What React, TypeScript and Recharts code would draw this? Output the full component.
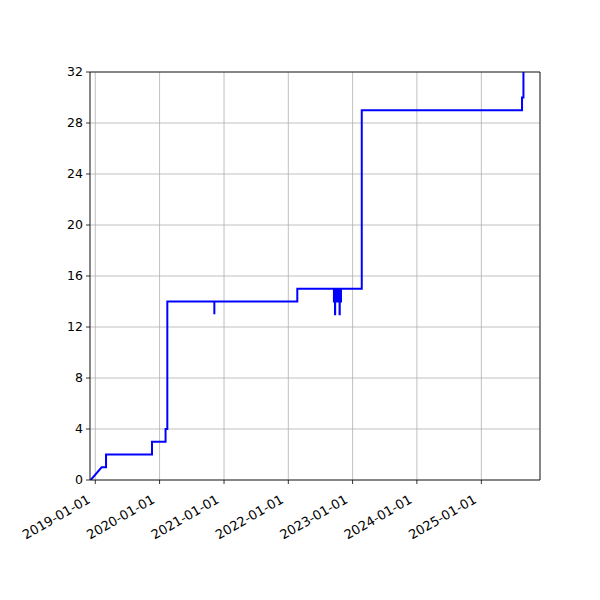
import React from 'react';
import { LineChart, Line, XAxis, YAxis, CartesianGrid, ReferenceLine } from 'recharts';

// cumulative count (repeated dates = vertical jumps)
const obsDates = [
    '2018-12-06', '2019-02-06', '2019-03-03', '2019-03-03', '2019-11-19', '2019-11-19',
    '2020-02-04', '2020-02-04', '2020-02-14', '2020-02-14',
    '2020-11-07', '2020-11-07', '2020-11-07',
    '2022-02-21', '2022-02-21',
    '2022-09-17', '2022-09-17', '2022-09-20', '2022-09-20', '2022-09-23', '2022-09-23',
    '2022-09-24', '2022-09-24', '2022-09-27', '2022-09-27', '2022-09-30', '2022-09-30',
    '2022-10-03', '2022-10-03', '2022-10-06', '2022-10-06', '2022-10-09', '2022-10-09',
    '2022-10-12', '2022-10-12', '2022-10-15', '2022-10-15', '2022-10-19', '2022-10-19',
    '2022-10-20', '2022-10-20', '2022-10-23', '2022-10-23', '2022-10-27', '2022-10-27',
    '2023-02-22', '2023-02-22',
    '2025-08-20', '2025-08-20', '2025-08-28', '2025-08-28',
];
const obsCounts = [
    0, 1, 1, 2, 2, 3,
    3, 4, 4, 14,
    14, 13, 14,
    14, 15,
    15, 14, 14, 15, 15, 13,
    13, 15, 15, 14, 14, 15,
    15, 14, 14, 15, 15, 14,
    14, 15, 15, 14, 14, 13,
    13, 15, 15, 14, 14, 15,
    15, 29,
    29, 30, 30, 32,
];

const xTickDates = ['2019-01-01', '2020-01-01', '2021-01-01', '2022-01-01', '2023-01-01', '2024-01-01', '2025-01-01'];
const yTicks = [0, 4, 8, 12, 16, 20, 24, 28, 32];
const xRange = ['2018-12-02', '2025-11-30'];

const data = obsDates.map((d, i) => ({ t: Date.parse(d), v: obsCounts[i] }));
const xTicks = xTickDates.map((d) => Date.parse(d));
const xDomain = xRange.map((d) => Date.parse(d));

const FONT = '"DejaVu Sans", sans-serif';

const fmtDate = (ts: number) => new Date(ts).toISOString().slice(0, 10);

const DateTick: React.FC<any> = ({ x, y, payload }) => {
    const px = x - 4;
    const py = y + 15;
    return (
        <text
            x={px}
            y={py}
            transform={`rotate(-30, ${px}, ${py})`}
            textAnchor="end"
            fontSize={13}
            fontFamily={FONT}
            fill="#000"
        >
            {fmtDate(payload.value)}
        </text>
    );
};

const App: React.FC = () => {
    return (
        <LineChart width={600} height={600} data={data} margin={{ top: 64, right: 68, left: 32, bottom: 58 }}>
            <CartesianGrid stroke="#b0b0b0" strokeWidth={0.8} />
            <XAxis
                dataKey="t"
                type="number"
                scale="linear"
                domain={xDomain}
                ticks={xTicks}
                allowDataOverflow
                height={70}
                interval={0}
                tick={<DateTick />}
                tickSize={4}
                tickMargin={3}
                tickLine={{ stroke: '#000', strokeWidth: 0.8 }}
                axisLine={{ stroke: '#000', strokeWidth: 0.8 }}
            />
            <YAxis
                type="number"
                domain={[0, 32]}
                ticks={yTicks}
                allowDataOverflow
                width={50}
                interval={0}
                tickSize={4}
                tickMargin={3}
                tick={{ fill: '#000', fontSize: 12.5, fontFamily: FONT }}
                tickLine={{ stroke: '#000', strokeWidth: 0.8 }}
                axisLine={{ stroke: '#000', strokeWidth: 0.8 }}
            />
            <Line
                type="linear"
                dataKey="v"
                stroke="#0000ff"
                strokeWidth={2}
                dot={false}
                isAnimationActive={false}
            />
            {/* top and right spines */}
            <ReferenceLine y={32} stroke="#000" strokeWidth={0.8} />
            <ReferenceLine x={xDomain[1]} stroke="#000" strokeWidth={0.8} />
        </LineChart>
    );
};

export default App;
